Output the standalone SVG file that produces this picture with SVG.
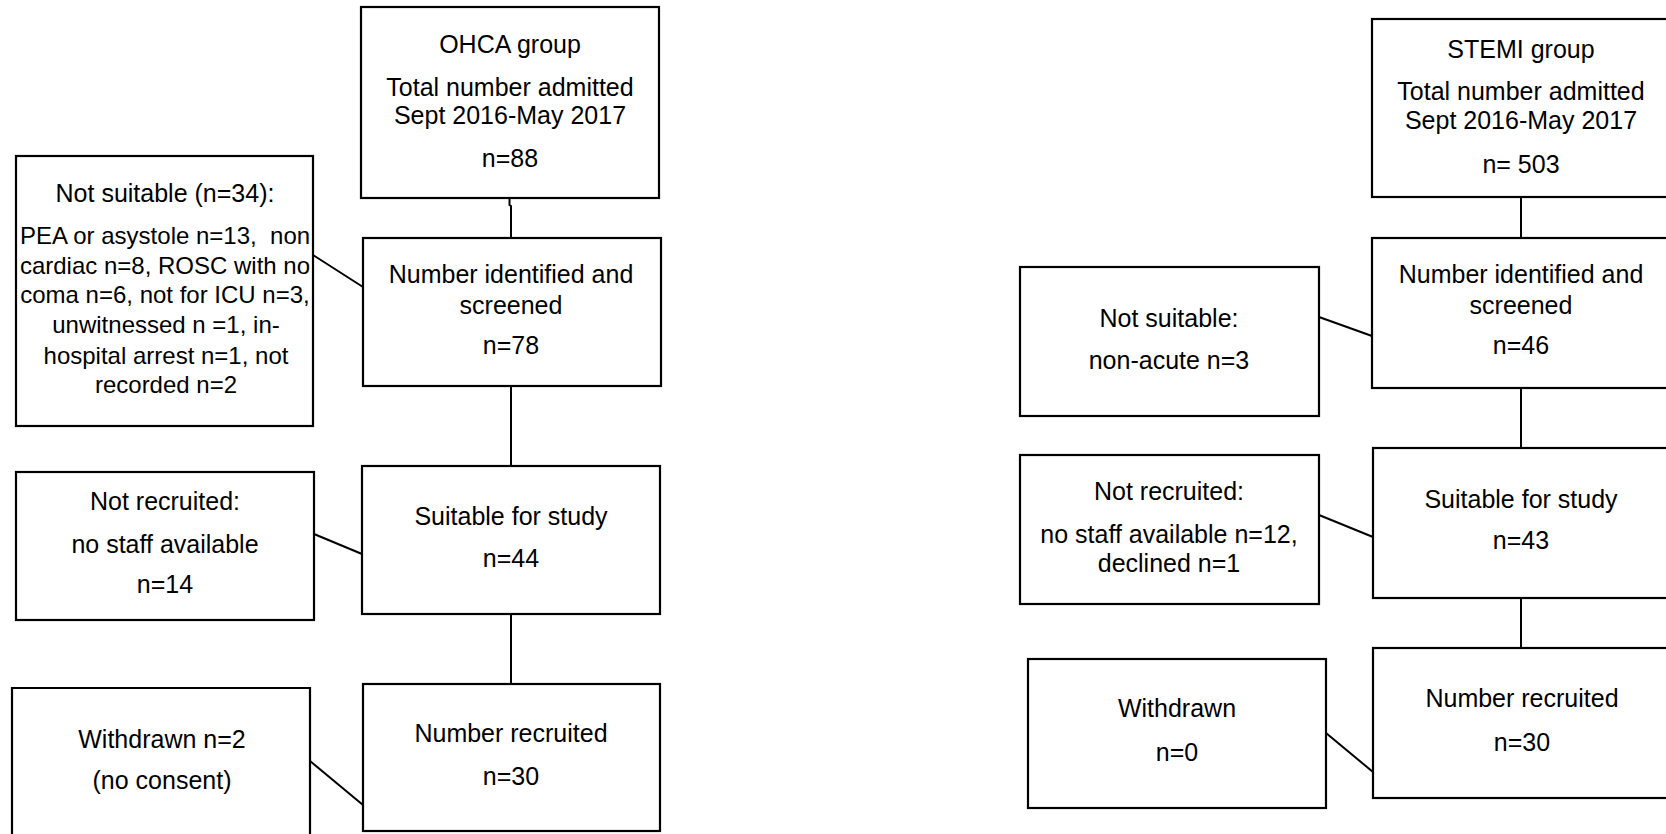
<svg xmlns="http://www.w3.org/2000/svg" width="1666" height="834" viewBox="0 0 1666 834">
<style>
.box{fill:#ffffff;stroke:#000000;stroke-width:2.2}
.ln{fill:none;stroke:#000000;stroke-width:2}
text{font-family:"Liberation Sans",Arial,sans-serif;font-size:25px;fill:#000000;text-anchor:middle}
.sm{font-size:24px}
</style>
<rect width="1666" height="834" fill="#ffffff"/>
<g id="connectors">
<path class="ln" d="M509.5,198 V205 L511,206 V238"/>
<path class="ln" d="M511,386 V466"/>
<path class="ln" d="M511,614 V684"/>
<path class="ln" d="M313,255 L363,287"/>
<path class="ln" d="M314,534 L362,554"/>
<path class="ln" d="M310,761 L363,805"/>
<path class="ln" d="M1521,197 V238"/>
<path class="ln" d="M1521,388 V448"/>
<path class="ln" d="M1521,598 V648"/>
<path class="ln" d="M1319,317 L1372,336"/>
<path class="ln" d="M1319,515 L1373,537"/>
<path class="ln" d="M1326,733 L1373,772"/>
</g>
<g id="ohca-total">
<rect class="box" x="361" y="7" width="298" height="191"/>
<text x="510" y="53">OHCA group</text>
<text x="510" y="96">Total number admitted</text>
<text x="510" y="124">Sept 2016-May 2017</text>
<text x="510" y="167">n=88</text>
</g>
<g id="ohca-screened">
<rect class="box" x="363" y="238" width="298" height="148"/>
<text x="511" y="283">Number identified and</text>
<text x="511" y="314">screened</text>
<text x="511" y="354">n=78</text>
</g>
<g id="ohca-not-suitable">
<rect class="box" x="16" y="156" width="297" height="270"/>
<text x="165" y="202">Not suitable (n=34):</text>
<text class="sm" x="165" y="244" xml:space="preserve">PEA or asystole n=13,  non</text>
<text class="sm" x="165" y="274">cardiac n=8, ROSC with no</text>
<text class="sm" x="165" y="303">coma n=6, not for ICU n=3,</text>
<text class="sm" x="166" y="333">unwitnessed n =1, in-</text>
<text class="sm" x="166" y="364">hospital arrest n=1, not</text>
<text class="sm" x="166" y="393">recorded n=2</text>
</g>
<g id="ohca-suitable">
<rect class="box" x="362" y="466" width="298" height="148"/>
<text x="511" y="525">Suitable for study</text>
<text x="511" y="567">n=44</text>
</g>
<g id="ohca-not-recruited">
<rect class="box" x="16" y="472" width="298" height="148"/>
<text x="165" y="510">Not recruited:</text>
<text x="165" y="553">no staff available</text>
<text x="165" y="593">n=14</text>
</g>
<g id="ohca-recruited">
<rect class="box" x="363" y="684" width="297" height="147"/>
<text x="511" y="742">Number recruited</text>
<text x="511" y="785">n=30</text>
</g>
<g id="ohca-withdrawn">
<path class="box" d="M12,840 V688 H310 V840"/>
<text x="162" y="748">Withdrawn n=2</text>
<text x="162" y="789">(no consent)</text>
</g>
<g id="stemi-total">
<rect class="box" x="1372" y="19" width="300" height="178"/>
<text x="1521" y="58">STEMI group</text>
<text x="1521" y="100">Total number admitted</text>
<text x="1521" y="129">Sept 2016-May 2017</text>
<text x="1521" y="173">n= 503</text>
</g>
<g id="stemi-screened">
<rect class="box" x="1372" y="238" width="300" height="150"/>
<text x="1521" y="283">Number identified and</text>
<text x="1521" y="314">screened</text>
<text x="1521" y="354">n=46</text>
</g>
<g id="stemi-not-suitable">
<rect class="box" x="1020" y="267" width="299" height="149"/>
<text x="1169" y="327">Not suitable:</text>
<text x="1169" y="369">non-acute n=3</text>
</g>
<g id="stemi-suitable">
<rect class="box" x="1373" y="448" width="300" height="150"/>
<text x="1521" y="508">Suitable for study</text>
<text x="1521" y="549">n=43</text>
</g>
<g id="stemi-not-recruited">
<rect class="box" x="1020" y="455" width="299" height="149"/>
<text x="1169" y="500">Not recruited:</text>
<text x="1169" y="543">no staff available n=12,</text>
<text x="1169" y="572">declined n=1</text>
</g>
<g id="stemi-recruited">
<rect class="box" x="1373" y="648" width="300" height="150"/>
<text x="1522" y="707">Number recruited</text>
<text x="1522" y="751">n=30</text>
</g>
<g id="stemi-withdrawn">
<rect class="box" x="1028" y="659" width="298" height="149"/>
<text x="1177" y="717">Withdrawn</text>
<text x="1177" y="761">n=0</text>
</g>
</svg>
